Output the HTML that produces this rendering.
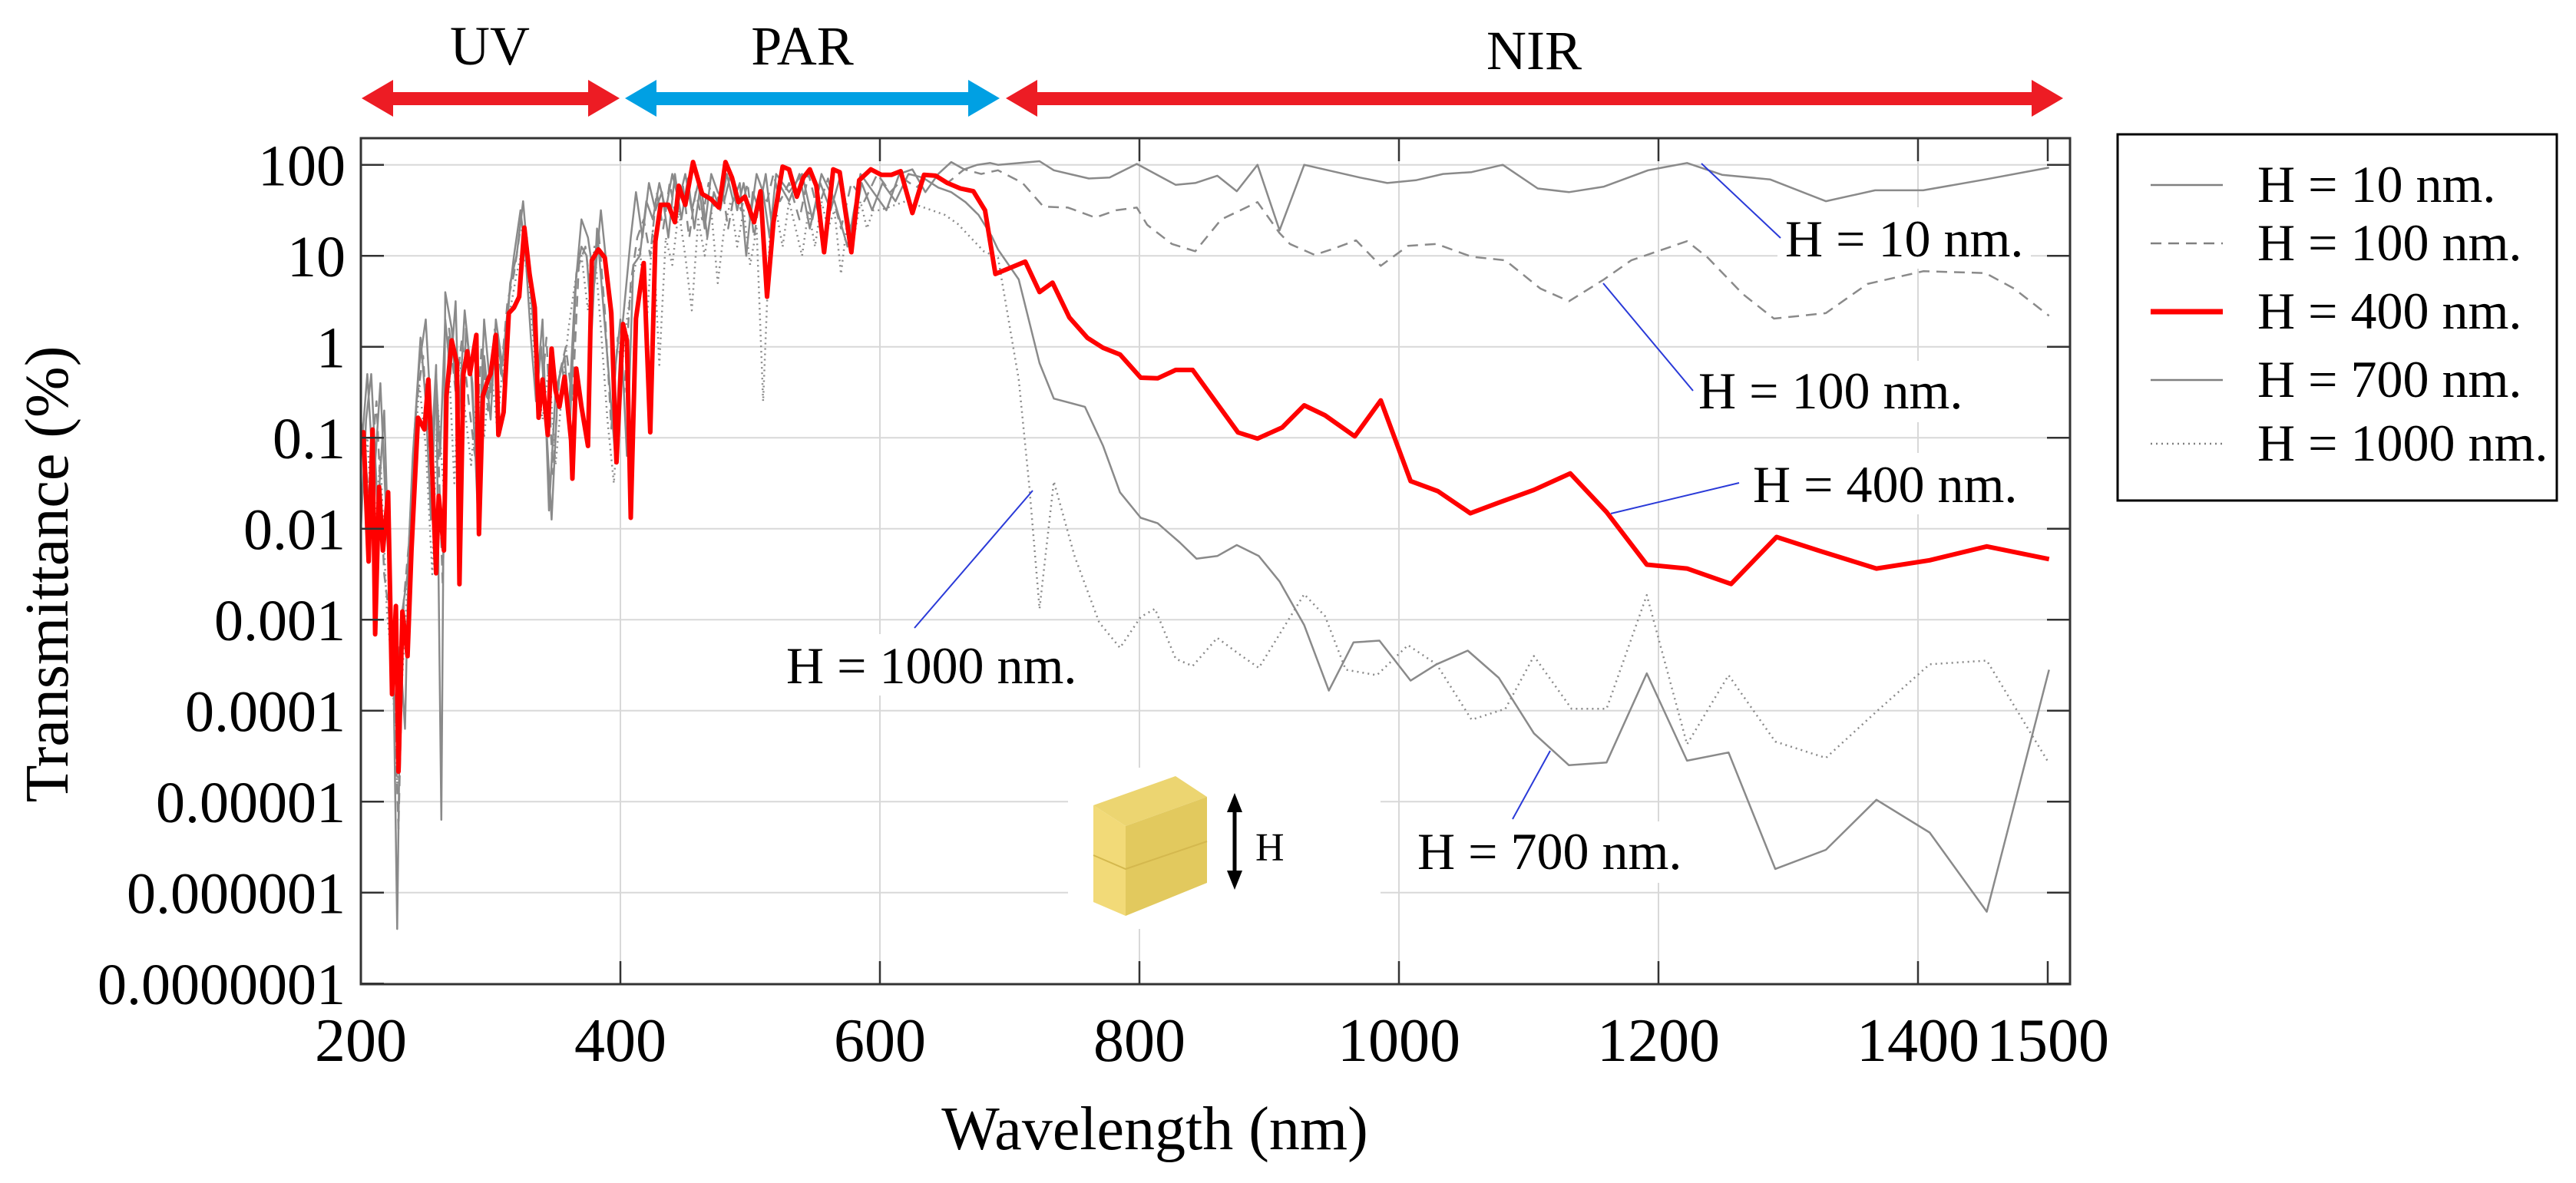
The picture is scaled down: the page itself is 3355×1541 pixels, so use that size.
<!DOCTYPE html>
<html><head><meta charset="utf-8"><style>
html,body{margin:0;padding:0;background:#fff;}
svg{display:block;font-family:"Liberation Serif",serif;}
</style></head><body>
<svg id="chart" width="3355" height="1541" viewBox="0 0 3355 1541" xmlns="http://www.w3.org/2000/svg">
<defs><clipPath id="plotClip"><rect x="470" y="180" width="2226" height="1102"/></clipPath></defs>
<g id="grid"></g>
<g id="bgs"></g>
<g id="series" clip-path="url(#plotClip)"></g>
<rect x="470" y="180" width="2226" height="1102" fill="none" stroke="#333" stroke-width="3"/>
<g id="ticks"></g>
<g id="ylabels" font-size="76" text-anchor="end"></g>
<g id="xlabels" font-size="80" text-anchor="middle"></g>
<text x="1504" y="1497" font-size="80" text-anchor="middle">Wavelength (nm)</text>
<text transform="translate(88,748) rotate(-90)" font-size="80" text-anchor="middle">Transmittance (%)</text>

<g>
 <g fill="#ed1c24">
  <rect x="505" y="120" width="268" height="17"/>
  <polygon points="471,128 512,104 512,152"/><polygon points="807,128 766,104 766,152"/>
 </g>
 <g fill="#00a0e3">
  <rect x="850" y="120" width="416" height="17"/>
  <polygon points="814,128 855,104 855,152"/><polygon points="1302,128 1261,104 1261,152"/>
 </g>
 <g fill="#ed1c24">
  <rect x="1345" y="120" width="1307" height="17"/>
  <polygon points="1310,128 1351,104 1351,152"/><polygon points="2687,128 2646,104 2646,152"/>
 </g>
 <text x="638" y="84" font-size="72" text-anchor="middle">UV</text>
 <text x="1045" y="84" font-size="72" text-anchor="middle">PAR</text>
 <text x="1998" y="90" font-size="72" text-anchor="middle">NIR</text>
</g>

<g>
 <rect x="2758" y="175" width="572" height="477" fill="#fff" stroke="#000" stroke-width="3"/>
 <g><line x1="2801" y1="241" x2="2895" y2="241" stroke="#808080" stroke-width="2.5"/><text x="2940" y="263" font-size="68">H = 10 nm.</text></g>
 <g><line x1="2801" y1="317" x2="2895" y2="317" stroke="#808080" stroke-width="2.5" stroke-dasharray="14 9"/><text x="2940" y="339" font-size="68">H = 100 nm.</text></g>
 <g><line x1="2801" y1="406" x2="2895" y2="406" stroke="#ff0000" stroke-width="7"/><text x="2940" y="428" font-size="68">H = 400 nm.</text></g>
 <g><line x1="2801" y1="495" x2="2895" y2="495" stroke="#808080" stroke-width="2.5"/><text x="2940" y="517" font-size="68">H = 700 nm.</text></g>
 <g><line x1="2801" y1="578" x2="2895" y2="578" stroke="#808080" stroke-width="2.5" stroke-dasharray="2 5"/><text x="2940" y="600" font-size="68">H = 1000 nm.</text></g>
</g>

<g font-size="68">
 <line x1="2216" y1="213" x2="2319" y2="310" stroke="#2a3ad8" stroke-width="2"/>
 <text x="2325" y="334">H = 10 nm.</text>
 <line x1="2088" y1="369" x2="2205" y2="509" stroke="#2a3ad8" stroke-width="2"/>
 <text x="2212" y="532">H = 100 nm.</text>
 <line x1="2098" y1="669" x2="2265" y2="629" stroke="#2a3ad8" stroke-width="2"/>
 <text x="2283" y="654">H = 400 nm.</text>
 <line x1="1191" y1="818" x2="1345" y2="639" stroke="#2a3ad8" stroke-width="2"/>
 <text x="1024" y="890">H = 1000 nm.</text>
 <line x1="1970" y1="1067" x2="2019" y2="978" stroke="#2a3ad8" stroke-width="2"/>
 <text x="1846" y="1132">H = 700 nm.</text>
</g>

<g>
 <polygon points="1424,1049 1531,1011 1572,1038 1466,1076" fill="#ecd571"/>
 <polygon points="1424,1049 1466,1076 1466,1193 1424,1175" fill="#f2da78"/>
 <polygon points="1466,1076 1572,1038 1572,1150 1466,1193" fill="#e2c95e"/>
 <polyline points="1424,1114 1466,1132 1572,1096" fill="none" stroke="#d4b84e" stroke-width="2"/>
 <line x1="1608" y1="1045" x2="1608" y2="1147" stroke="#000" stroke-width="5"/>
 <polygon points="1608,1033 1598,1058 1618,1058" fill="#000"/>
 <polygon points="1608,1159 1598,1134 1618,1134" fill="#000"/>
 <text x="1635" y="1121" font-size="52">H</text>
</g>
</svg>
<script>
// ---- data (wavelength nm, log10 transmittance %) ----
const yTickLabels = ["100","10","1","0.1","0.01","0.001","0.0001","0.00001","0.000001","0.0000001"];
const yTickLogs = [2,1,0,-1,-2,-3,-4,-5,-6,-7];
const xTickValues = [200,400,600,800,1000,1200,1400,1500];

const h400Nm = [200,202,206,209,211,214,217,221,224,227,229,232,236,239,244,249,252,255,258,260,264,266,270,274,276,279,282,284,289,291,294,298,300,304,306,310,314,318,322,326,330,334,337,340,344,347,350,353,357,362,363,366,370,375,378,383,388,393,397,402,405,408,412,415,418,423,427,431,437,442,445,450,456,463,470,476,481,486,491,496,503,508,513,518,525,530,536,541,546,551,557,564,569,578,584,593,601,609,616,625,634,643,652,662,672,681,689,712,723,733,746,760,772,785,801,814,828,841,876,891,910,927,943,966,986,1009,1030,1055,1078,1104,1132,1160,1191,1222,1256,1291,1324,1368,1409,1453,1501];
const h400Log = [-1.03,-0.94,-2.36,-0.91,-3.16,-1.54,-2.24,-1.60,-3.82,-2.85,-4.67,-2.91,-3.40,-2.24,-0.78,-0.91,-0.36,-1.39,-2.49,-1.64,-2.24,-0.54,0.07,-0.18,-2.61,-0.30,-0.05,-0.30,0.13,-2.06,-0.54,-0.36,-0.30,0.13,-0.97,-0.72,0.37,0.43,0.55,1.31,0.80,0.43,-0.78,-0.36,-0.97,-0.02,-0.48,-0.66,-0.33,-1.03,-1.45,-0.24,-0.66,-1.09,0.95,1.07,0.98,0.37,-1.27,0.25,0.07,-1.88,0.31,0.61,0.92,-0.94,1.16,1.56,1.56,1.37,1.77,1.56,2.03,1.68,1.62,1.53,2.03,1.86,1.59,1.65,1.37,1.71,0.55,1.37,1.98,1.95,1.65,1.86,1.95,1.77,1.04,1.95,1.92,1.04,1.83,1.95,1.89,1.89,1.93,1.47,1.89,1.88,1.80,1.74,1.71,1.50,0.80,0.936,0.602,0.705,0.322,0.097,-0.012,-0.085,-0.340,-0.347,-0.255,-0.255,-0.942,-1.009,-0.888,-0.644,-0.754,-0.985,-0.590,-1.477,-1.587,-1.830,-1.708,-1.574,-1.392,-1.818,-2.395,-2.438,-2.608,-2.091,-2.243,-2.438,-2.347,-2.195,-2.334];

const h10Nm = [200,205,210,215,220,225,228,231,236,240,245,250,255,258,262,265,270,275,280,285,290,295,300,305,310,315,320,325,328,332,336,340,345,350,355,360,365,370,375,380,385,390,395,400,405,410,415,420,425,430,435,440,445,450,455,460,465,470,475,480,485,490,495,500,505,510,515,520,530,540,548,555,565,575,585,595,605,615,625,635,645,655,665,675,685,691,723,734,761,777,798,828,843,860,875,891,908,927,970,991,1013,1034,1056,1080,1107,1131,1158,1192,1222,1249,1286,1329,1367,1404,1452,1501];
const h10Log = [-1.2,-0.3,-1.5,-0.4,-2.0,-3.5,-6.4,-3.0,-2.5,-1.2,-0.2,0.3,-1.0,-0.2,-5.2,0.6,0.2,-0.9,0.4,-0.3,-1.6,0.3,-0.5,0.1,-0.4,0.7,1.0,1.6,1.1,0.4,-0.4,0.3,-1.8,-0.5,-0.2,-0.8,0.6,1.4,1.2,0.7,1.5,0.8,-0.4,0.3,-1.2,0.9,1.0,1.6,1.4,1.8,1.5,1.9,1.6,1.9,1.5,1.8,1.3,1.9,1.7,1.6,1.9,1.5,1.8,1.4,1.9,1.7,1.2,1.9,1.7,1.9,1.4,1.9,1.6,1.1,1.9,1.7,1.5,1.9,1.95,1.7,1.9,2.03,1.95,2.0,2.02,2.0,2.04,1.94,1.85,1.86,2.01,1.78,1.80,1.88,1.71,2.0,1.28,2.0,1.86,1.80,1.83,1.90,1.92,2.0,1.74,1.70,1.76,1.94,2.02,1.89,1.84,1.60,1.72,1.72,1.84,1.97];

const h100Nm = [200,206,212,218,224,229,233,238,243,248,253,258,263,268,273,278,283,288,293,298,303,308,313,318,323,328,333,338,343,348,353,358,363,368,373,378,383,388,393,398,403,408,413,418,423,428,433,438,443,448,453,458,463,468,473,478,483,488,493,498,503,508,513,518,523,530,538,545,552,560,570,578,588,598,608,618,628,640,652,665,678,691,710,726,745,766,782,798,806,825,843,863,891,908,916,935,948,967,986,1007,1029,1056,1082,1109,1131,1158,1179,1222,1238,1265,1289,1329,1361,1404,1452,1474,1501];
const h100Log = [-0.8,-1.6,-0.6,-2.5,-3.2,-5.3,-2.8,-2.0,-0.6,-0.1,-1.3,-0.4,-2.6,0.2,-0.5,0.1,-0.6,-1.2,0.0,-0.7,0.2,-0.3,0.5,0.8,1.3,1.2,0.3,-0.7,0.1,-1.4,-0.3,0.0,-0.6,0.9,1.1,0.5,1.3,0.4,-0.9,0.1,-0.5,0.7,1.2,1.4,1.0,1.7,1.3,1.8,1.4,1.8,1.2,1.7,1.4,1.8,1.5,1.8,1.3,1.7,1.5,1.8,1.2,1.7,1.6,1.9,1.6,1.8,1.4,1.9,1.5,1.85,1.3,1.8,1.6,1.9,1.7,1.85,1.75,1.9,1.8,1.95,1.9,1.94,1.80,1.54,1.53,1.42,1.50,1.53,1.34,1.13,1.05,1.40,1.59,1.25,1.13,1.01,1.07,1.17,0.89,1.11,1.13,0.99,0.95,0.64,0.50,0.74,0.95,1.16,0.98,0.58,0.31,0.37,0.69,0.83,0.81,0.64,0.34];

const h700Nm = [200,204,208,213,218,222,226,230,234,237,241,246,250,254,258,261,265,269,273,277,281,286,290,295,300,304,309,313,318,323,327,331,335,339,343,347,352,357,361,366,370,374,378,382,386,391,396,400,404,408,412,417,422,427,432,437,442,447,452,457,462,467,472,477,482,487,492,497,502,507,512,517,522,530,538,546,554,562,570,578,586,594,602,612,622,633,645,655,666,676,686,691,707,723,734,758,772,785,801,814,831,844,860,875,892,908,927,946,965,985,1009,1029,1053,1077,1104,1131,1160,1191,1222,1254,1290,1329,1368,1409,1453,1501];
const h700Log = [-2.0,-0.8,-0.3,-1.8,-0.7,-2.6,-4.0,-3.3,-4.2,-2.2,-1.0,0.1,-0.6,-1.9,-0.3,-1.2,0.3,-0.3,0.5,-1.5,0.2,-0.4,-1.8,-0.1,-0.8,0.3,-0.2,0.4,1.0,1.5,1.0,0.1,-0.6,0.0,-0.9,-1.9,-0.4,-0.1,-0.9,0.8,1.1,1.0,0.2,1.3,0.6,-0.3,-1.2,0.0,0.6,1.2,1.7,1.2,1.8,1.5,1.7,1.2,1.9,1.4,1.85,1.3,1.8,1.2,1.7,1.5,1.9,1.6,1.8,1.0,1.7,1.5,1.9,1.3,1.8,1.6,1.9,1.3,1.8,1.5,1.9,1.2,1.8,1.5,1.8,1.6,1.9,1.86,1.75,1.7,1.59,1.45,1.22,1.07,0.74,-0.18,-0.57,-0.66,-1.09,-1.60,-1.88,-1.94,-2.15,-2.33,-2.30,-2.18,-2.30,-2.58,-3.06,-3.78,-3.25,-3.23,-3.67,-3.49,-3.34,-3.64,-4.25,-4.60,-4.57,-3.59,-4.55,-4.46,-5.74,-5.53,-4.98,-5.34,-6.21,-3.55];

const h1000Nm = [200,205,210,215,220,224,228,232,236,240,245,250,255,259,264,268,272,276,281,285,290,295,300,305,310,315,320,325,330,335,340,345,350,355,360,365,370,375,380,385,390,395,400,405,410,415,420,425,430,435,440,445,450,455,460,465,470,475,480,485,490,495,500,505,510,515,520,525,530,535,540,545,550,555,560,565,570,575,580,585,590,595,600,610,620,630,640,650,660,670,680,691,707,715,723,734,750,769,785,801,812,828,841,860,876,892,908,927,943,959,983,1007,1029,1056,1082,1104,1133,1160,1191,1222,1254,1290,1329,1368,1409,1453,1501];
const h1000Log = [-1.8,-1.0,-2.2,-1.2,-2.9,-3.5,-4.8,-3.6,-2.6,-1.5,-0.4,-1.1,-2.5,-0.6,-1.6,-0.2,-1.5,-0.1,-0.8,-1.3,-0.4,-1.0,-0.2,-0.9,-0.1,0.4,0.8,1.1,0.6,-0.3,-0.8,-0.2,-1.3,-0.5,0.2,0.7,1.0,0.4,1.1,0.2,-0.8,-1.5,-0.4,0.3,0.8,1.1,0.2,1.3,-0.2,1.2,0.9,1.5,1.0,0.4,1.4,1.0,1.5,0.7,1.3,1.6,1.1,1.5,0.9,1.3,-0.6,1.2,1.5,1.1,1.6,1.3,1.0,1.5,1.1,1.6,1.3,1.5,0.8,1.4,1.2,1.6,1.3,1.5,1.5,1.55,1.6,1.55,1.5,1.45,1.35,1.2,1.05,0.98,-0.36,-1.51,-2.88,-1.48,-2.30,-3.03,-3.31,-2.97,-2.88,-3.43,-3.51,-3.20,-3.37,-3.53,-3.16,-2.72,-2.96,-3.55,-3.61,-3.28,-3.49,-4.10,-3.98,-3.40,-3.98,-3.98,-2.73,-4.37,-3.61,-4.34,-4.52,-4.01,-3.49,-3.45,-4.58];

// ---- axes ----
function xScale(nm){ return 470 + (nm - 200) * 1.69; }
function yScale(lg){ return 214.7 + (2 - lg) * 118.5; }
const NS = "http://www.w3.org/2000/svg";
function mk(tag, attrs, parent){ const e=document.createElementNS(NS,tag); for(const k in attrs) e.setAttribute(k,attrs[k]); parent.appendChild(e); return e; }

const gridG=document.getElementById('grid'), ticksG=document.getElementById('ticks');
const ylabG=document.getElementById('ylabels'), xlabG=document.getElementById('xlabels');
yTickLogs.forEach((lg,i)=>{
  const y=yScale(lg);
  if(i < yTickLogs.length-1){
    const g=mk('line',{x1:470,x2:2696,y1:y,y2:y,stroke:'#d8d8d8','stroke-width':2},gridG);
    
    
  }
  const t1=mk('line',{x1:470,x2:500,y1:y,y2:y,stroke:'#333','stroke-width':2.5},ticksG);
  
  
  mk('line',{x1:2666,x2:2696,y1:y,y2:y,stroke:'#333','stroke-width':2.5},ticksG);
  const t=mk('text',{x:450,y:y+27},ylabG); t.textContent=yTickLabels[i];
  
  
});
xTickValues.forEach(v=>{
  const x=xScale(v);
  if(v > 200 && v < 1500){
    const g=mk('line',{x1:x,x2:x,y1:180,y2:1282,stroke:'#d8d8d8','stroke-width':2},gridG);
    
    
  }
  const t1=mk('line',{x1:x,x2:x,y1:1252,y2:1282,stroke:'#333','stroke-width':2.5},ticksG);
  
  
  mk('line',{x1:x,x2:x,y1:180,y2:210,stroke:'#333','stroke-width':2.5},ticksG);
  const t=mk('text',{x:x,y:1382},xlabG); t.textContent=String(v);
  
  
});

// white label backgrounds
const bgsG=document.getElementById('bgs');
[[2315,270,330,80],[2200,470,380,80],[2272,590,380,80],[1012,826,420,80],[1836,1070,360,80],[1391,1000,407,210]].forEach(r=>{
  const b=mk('rect',{x:r[0],y:r[1],width:r[2],height:r[3],fill:'#fff'},bgsG);
  
  
});

const seriesG=document.getElementById('series');
function drawSeries(nm, lg, name, color, width, dash){
  const pts=nm.map((v,i)=>xScale(v).toFixed(1)+','+yScale(lg[i]).toFixed(1)).join(' ');
  const p=mk('polyline',{points:pts,fill:'none',stroke:color,'stroke-width':width,'stroke-linejoin':'round'},seriesG);
  if(dash) p.setAttribute('stroke-dasharray',dash);
  
  
}
drawSeries(h1000Nm,h1000Log,'series-h1000','#8a8a8a',2.5,'2 5');
drawSeries(h700Nm,h700Log,'series-h700','#8a8a8a',2.5,null);
drawSeries(h100Nm,h100Log,'series-h100','#8a8a8a',2.5,'14 9');
drawSeries(h10Nm,h10Log,'series-h10','#8a8a8a',2.5,null);
drawSeries(h400Nm,h400Log,'series-h400','#ff0000',6,null);
</script>
</body></html>
